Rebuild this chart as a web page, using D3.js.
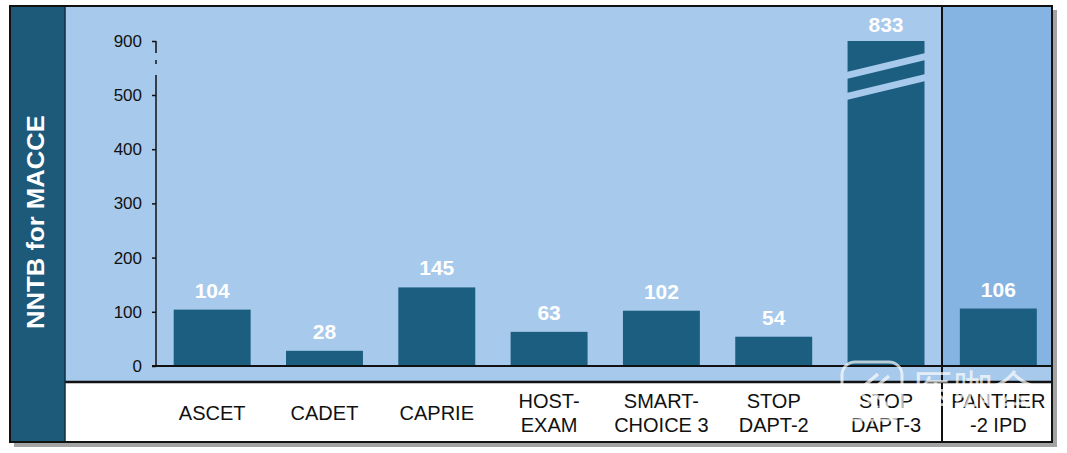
<!DOCTYPE html>
<html>
<head>
<meta charset="utf-8">
<script src="https://cdn.jsdelivr.net/npm/d3@7"></script>
<style>
  body { margin: 0; background: #fff; }
  text { font-family: "Liberation Sans", Arial, Helvetica, sans-serif; }
</style>
</head>
<body>
<div id="chart"></div>
<script>
// trials and their NNTB values
const trials = ["ASCET", "CADET", "CAPRIE", "HOST-\nEXAM", "SMART-\nCHOICE 3", "STOP\nDAPT-2", "STOP\nDAPT-3", "PANTHER\n-2 IPD"];
const nntb = [104, 28, 145, 63, 102, 54, 833, 106];
const yTicks = [0, 100, 200, 300, 400, 500, 900];
const yLabel = "NNTB for MACCE";

const W = 1067, H = 453;
const frame = { left: 10, top: 6, right: 1052, bottom: 442 };
const stripRight = 65;
const sepY = 382;       // line between plot and label row
const panelX = 942;     // PANTHER panel divider

const colors = {
    bar: "#1b5e80",
    strip: "#1d5a7a",
    plotBg: "#a7c9eb",
    panel: "#85b3e2",
    ink: "#111"
};

const svg = d3.select("#chart").append("svg")
    .attr("width", W)
    .attr("height", H);

// scales: broken y axis, linear up to 500 then compressed to 900
const y = d3.scaleLinear()
    .domain([0, 500, 900])
    .range([366, 95, 41]);

const x = d3.scaleBand()
    .domain(trials)
    .range([156, 1054.5])
    .paddingInner(0.315)
    .paddingOuter(0.1575);

const breakAt = 500;

// shadow + frame background
svg.append("rect")
    .attr("x", frame.left + 4).attr("y", frame.top + 4)
    .attr("width", frame.right - frame.left + 1).attr("height", frame.bottom - frame.top + 1)
    .attr("fill", "#a3a3a3");
svg.append("rect")
    .attr("x", frame.left).attr("y", frame.top)
    .attr("width", frame.right - frame.left).attr("height", frame.bottom - frame.top)
    .attr("fill", "#fff");

svg.append("rect")
    .attr("x", frame.left).attr("y", frame.top)
    .attr("width", stripRight - frame.left).attr("height", frame.bottom - frame.top)
    .attr("fill", colors.strip);

svg.append("rect")
    .attr("x", stripRight).attr("y", frame.top)
    .attr("width", frame.right - stripRight).attr("height", sepY - frame.top)
    .attr("fill", colors.plotBg);

svg.append("rect")
    .attr("x", panelX).attr("y", frame.top)
    .attr("width", frame.right - panelX).attr("height", y(0) - frame.top)
    .attr("fill", colors.panel);

// y label
svg.append("text")
    .attr("transform", "translate(44, 222) rotate(-90)")
    .attr("text-anchor", "middle")
    .attr("textLength", 214)
    .attr("lengthAdjust", "spacingAndGlyphs")
    .style("font-size", "23px")
    .style("font-weight", "bold")
    .attr("fill", "#fff")
    .text(yLabel);

// bars
const data = trials.map((t, i) => ({ trial: t, value: nntb[i] }));
const barTop = d => d.value > breakAt ? y(y.domain()[2]) : y(d.value);

svg.append("g").selectAll("rect")
    .data(data)
    .enter()
    .append("rect")
    .attr("x", d => x(d.trial))
    .attr("y", d => barTop(d))
    .attr("width", x.bandwidth())
    .attr("height", d => y(0) - barTop(d))
    .attr("fill", colors.bar);

// break stripes on the truncated bar
data.filter(d => d.value > breakAt).forEach(d => {
    const x0 = x(d.trial), x1 = x0 + x.bandwidth() + 1;
    const t = barTop(d);
    [34, 55].forEach(off => {
        svg.append("path")
            .attr("d", `M${x0 - 1},${t + off - 3} L${x1},${t + off - 22} L${x1},${t + off - 15} L${x0 - 1},${t + off + 4} Z`)
            .attr("fill", colors.plotBg);
    });
});

// value labels
svg.append("g").selectAll("text")
    .data(data)
    .enter()
    .append("text")
    .attr("x", d => x(d.trial) + x.bandwidth() / 2)
    .attr("y", d => barTop(d) - (d.value > breakAt ? 9 : 12))
    .attr("text-anchor", "middle")
    .style("font-size", "21px")
    .style("font-weight", "bold")
    .attr("fill", "#fff")
    .text(d => d.value);

// y axis
const yAxis = svg.append("g")
    .attr("transform", "translate(156,0)")
    .call(d3.axisLeft(y).tickValues(yTicks).tickSize(4).tickPadding(10));
yAxis.select(".domain").remove();
yAxis.selectAll(".tick line").attr("stroke", colors.ink).attr("stroke-width", 1.5);
yAxis.selectAll(".tick text")
    .attr("fill", colors.ink)
    .style("font-size", "17px")
    .style("font-family", "'Liberation Sans', Arial, sans-serif");

// broken axis line
const y500 = y(500), y900 = y(900);
[[y(0), y500 - 20], [y500 - 31, y500 - 35], [y900 + 12, y900]].forEach(s => {
    svg.append("line")
        .attr("x1", 156).attr("x2", 156)
        .attr("y1", s[0]).attr("y2", s[1])
        .attr("stroke", colors.ink).attr("stroke-width", 1.5);
});

// baseline
svg.append("line")
    .attr("x1", 152).attr("x2", frame.right)
    .attr("y1", y(0)).attr("y2", y(0))
    .attr("stroke", colors.ink).attr("stroke-width", 2);

// category labels
const cat = svg.append("g").selectAll("text")
    .data(trials)
    .enter()
    .append("text")
    .attr("x", d => x(d) + x.bandwidth() / 2)
    .attr("y", d => d.includes("\n") ? 408 : 420)
    .attr("text-anchor", "middle")
    .style("font-size", "20px")
    .attr("fill", colors.ink);
cat.each(function (d) {
    const lines = d.split("\n");
    d3.select(this).selectAll("tspan")
        .data(lines)
        .enter()
        .append("tspan")
        .attr("x", x(d) + x.bandwidth() / 2)
        .attr("dy", (l, i) => i === 0 ? 0 : 24)
        .text(l => l);
});

// divider lines and frame
svg.append("line")
    .attr("x1", stripRight).attr("x2", frame.right)
    .attr("y1", sepY).attr("y2", sepY)
    .attr("stroke", colors.ink).attr("stroke-width", 2.5);
svg.append("line")
    .attr("x1", panelX).attr("x2", panelX)
    .attr("y1", frame.top).attr("y2", frame.bottom)
    .attr("stroke", colors.ink).attr("stroke-width", 2);
svg.append("line")
    .attr("x1", stripRight).attr("x2", stripRight)
    .attr("y1", frame.top).attr("y2", frame.bottom)
    .attr("stroke", "#0e2f42").attr("stroke-width", 1.5);
svg.append("rect")
    .attr("x", frame.left).attr("y", frame.top)
    .attr("width", frame.right - frame.left).attr("height", frame.bottom - frame.top)
    .attr("fill", "none")
    .attr("stroke", colors.ink).attr("stroke-width", 2);

// watermark overlay, as in the source image
const wm = svg.append("g").attr("opacity", 0.7);
wm.append("rect")
    .attr("x", 842).attr("y", 362).attr("width", 60).attr("height", 58).attr("rx", 13)
    .attr("fill", "none").attr("stroke", "#fff").attr("stroke-width", 3);
wm.append("path")
    .attr("d", "M878,374 L858,391 L878,408 M889,376 L871,391 L889,406")
    .attr("fill", "none").attr("stroke", "#fff").attr("stroke-width", 3.5);
wm.append("text")
    .attr("x", 913).attr("y", 404)
    .style("font-family", "'Noto Sans CJK SC', sans-serif")
    .style("font-size", "40px")
    .attr("fill", "#fff")
    .text("医咖会");
</script>
</body>
</html>
